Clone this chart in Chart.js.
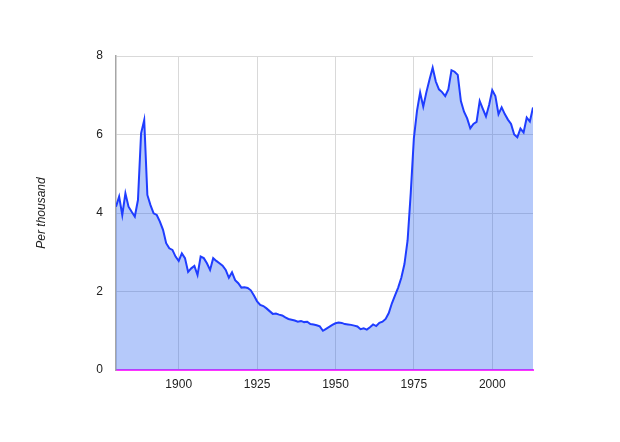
<!DOCTYPE html>
<html>
<head>
<meta charset="utf-8">
<script src="https://cdn.jsdelivr.net/npm/chart.js@4.4.0/dist/chart.umd.min.js"></script>
<style>
  html, body { margin: 0; padding: 0; background: #fff; }
  #wrap { width: 620px; height: 442px; }
</style>
</head>
<body>
<div id="wrap"><canvas id="myChart" width="620" height="442"></canvas></div>
<script>
// DATA
var firstYear = 1880;
var lastYear = 2013;
var rates = [
  4.16, 4.42, 3.95, 4.50, 4.16, 4.03, 3.91, 4.33, 6.03, 6.37, // 1880-1889
  4.46, 4.20, 3.99, 3.95, 3.78, 3.57, 3.23, 3.10, 3.06, 2.89, // 1890-1899
  2.78, 2.97, 2.85, 2.50, 2.59, 2.65, 2.42, 2.89, 2.85, 2.72, // 1900-1909
  2.55, 2.85, 2.78, 2.72, 2.66, 2.55, 2.35, 2.49, 2.29, 2.21, // 1910-1919
  2.10, 2.11, 2.09, 2.03, 1.90, 1.75, 1.66, 1.63, 1.57, 1.50, // 1920-1929
  1.43, 1.44, 1.41, 1.39, 1.34, 1.30, 1.28, 1.26, 1.23, 1.25, // 1930-1939
  1.22, 1.23, 1.17, 1.16, 1.14, 1.11, 1.00, 1.05, 1.10, 1.15, // 1940-1949
  1.19, 1.21, 1.20, 1.17, 1.16, 1.15, 1.13, 1.11, 1.04, 1.06, // 1950-1959
  1.03, 1.09, 1.16, 1.12, 1.20, 1.23, 1.30, 1.45, 1.70, 1.90, // 1960-1969
  2.10, 2.35, 2.70, 3.30, 4.50, 5.90, 6.60, 7.07, 6.71, 7.08, // 1970-1979
  7.40, 7.70, 7.35, 7.15, 7.08, 6.98, 7.15, 7.64, 7.60, 7.52, // 1980-1989
  6.85, 6.58, 6.41, 6.16, 6.27, 6.32, 6.85, 6.65, 6.46, 6.75, // 1990-1999
  7.13, 6.98, 6.52, 6.69, 6.52, 6.38, 6.27, 6.00, 5.93, 6.15, // 2000-2009
  6.05, 6.43, 6.33, 6.69                                      // 2010-2013
];
var xTicks = [1900, 1925, 1950, 1975, 2000];
var yTicks = [0, 2, 4, 6, 8];
var yTitle = 'Per thousand';

var points = [];
for (var i = 0; i < rates.length; i++) {
  points.push({ x: firstYear + i, y: rates[i] });
}

var labelFont = { family: 'Liberation Sans, Arial, sans-serif', size: 12 };

var ctx = document.getElementById('myChart').getContext('2d');
var myChart = new Chart(ctx, {
  type: 'line',
  data: {
    datasets: [{
      data: points,
      borderColor: '#1f3dff',
      borderWidth: 2,
      backgroundColor: 'rgba(30, 90, 240, 0.33)',
      fill: 'origin',
      pointRadius: 0,
      tension: 0
    }]
  },
  options: {
    responsive: false,
    animation: false,
    layout: { padding: { left: 30, top: 56, right: 87, bottom: 0 } },
    plugins: {
      legend: { display: false },
      tooltip: { enabled: false }
    },
    scales: {
      x: {
        type: 'linear',
        min: firstYear,
        max: lastYear,
        afterBuildTicks: function(scale) {
          scale.ticks = xTicks.map(function(v){ return { value: v }; });
        },
        afterFit: function(scale) { scale.height = 72; },
        grid: { color: '#d9d9d9', lineWidth: 1, drawTicks: false },
        border: { color: '#ff33ff', width: 2 },
        ticks: {
          padding: 7,
          color: '#222',
          font: labelFont,
          maxRotation: 0,
          callback: function(v) { return String(v); }
        }
      },
      y: {
        min: 0,
        max: 8,
        afterBuildTicks: function(scale) {
          scale.ticks = yTicks.map(function(v){ return { value: v }; });
        },
        afterFit: function(scale) { scale.width = 86; },
        grid: { color: '#d9d9d9', lineWidth: 1, drawTicks: false },
        border: { color: '#a6a6a6', width: 1.5 },
        ticks: { padding: 13, color: '#222', font: labelFont },
        title: {
          display: true,
          text: yTitle,
          color: '#222',
          font: { family: 'Liberation Sans, Arial, sans-serif', size: 12, style: 'italic' },
          padding: { top: 4, bottom: 4 }
        }
      }
    }
  }
});
</script>
</body>
</html>
